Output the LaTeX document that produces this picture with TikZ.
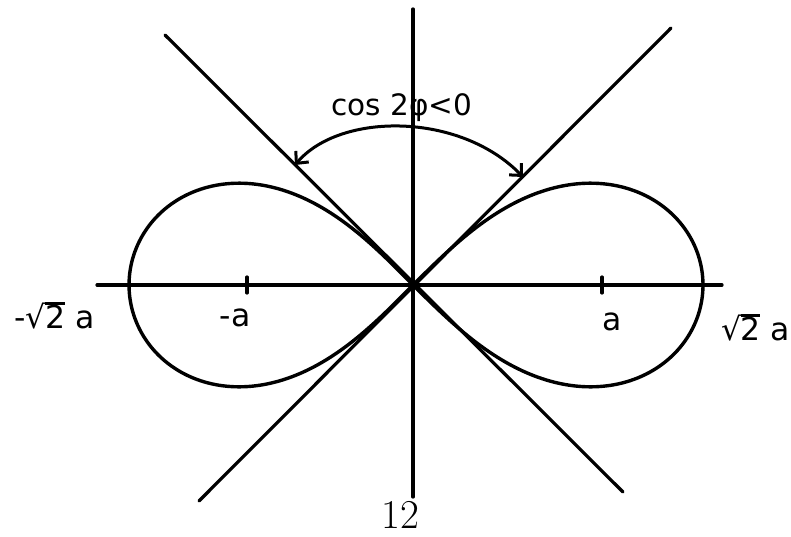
\documentclass[tikz,border=0pt]{standalone}
\usepackage{fontspec}
\newfontfamily\dejavu{DejaVu Sans}
\usetikzlibrary{arrows.meta}
\newcommand{\sqtwo}{√\kern-0.02em\rlap{\rule[0.74em]{0.62em}{0.07em}}2}
\begin{document}
\begin{tikzpicture}[x=1pt,y=-1pt,
  ax/.style={line width=3.2pt, line cap=round},
  curve/.style={line width=3.4pt, line join=round},
  lbl/.style={font=\dejavu\fontsize{31.5}{36}\selectfont, inner sep=0pt},
  toplbl/.style={font=\dejavu\fontsize{29.5}{35}\selectfont, inner sep=0pt},
  arc/.style={line width=3pt, {Straight Barb[length=9pt,width=17pt,line width=3pt]}-{Straight Barb[length=9pt,width=17pt,line width=3pt]}}]
\useasboundingbox (0,0) rectangle (791,537);
% axes
\coordinate (xl) at (97,285);
\coordinate (xr) at (722,285);
\coordinate (yt) at (413,9);
\coordinate (yb) at (413,497);
\coordinate (d1a) at (165,35);
\coordinate (d1b) at (623,492);
\coordinate (d2a) at (671,28);
\coordinate (d2b) at (199,501);
\draw[ax] (xl) -- (xr);
\draw[ax] (yt) -- (yb);
\draw[ax] (d1a) -- (d1b);
\draw[ax] (d2a) -- (d2b);
% ticks
\coordinate (t1a) at (247,277); \coordinate (t1b) at (247,293);
\coordinate (t2a) at (602,277); \coordinate (t2b) at (602,293);
\draw[ax] (t1a) -- (t1b);
\draw[ax] (t2a) -- (t2b);
% lemniscate
\draw[curve] plot[domain=-90:90, samples=120, smooth] ({413 + 290*cos(\x)/(1+sin(\x)^2)}, {285 - 288*sin(\x)*cos(\x)/(1+sin(\x)^2)});
\draw[curve] plot[domain=90:270, samples=120, smooth] ({413 + 284*cos(\x)/(1+sin(\x)^2)}, {285 - 288*sin(\x)*cos(\x)/(1+sin(\x)^2)});
% arc with arrows
\coordinate (al) at (295,165);
\coordinate (ar) at (523,177);
\draw[arc] (al) .. controls (340,112) and (460,112) .. (ar);
% labels
\node[toplbl, anchor=base] (cl) at (402,116) {cos 2φ<0};
\node[lbl, anchor=base west] (lm2) at (14,328) {-\sqtwo\ a};
\node[lbl, anchor=base] (lma) at (235,326) {-a};
\node[lbl, anchor=base] (lpa) at (612,330) {a};
\node[lbl, anchor=base west] (lp2) at (721,340) {\sqtwo\ a};
\node[inner sep=0pt, anchor=base, font=\fontsize{41}{48}\selectfont] (pg) at (400,528) {12};
\end{tikzpicture}
\end{document}
